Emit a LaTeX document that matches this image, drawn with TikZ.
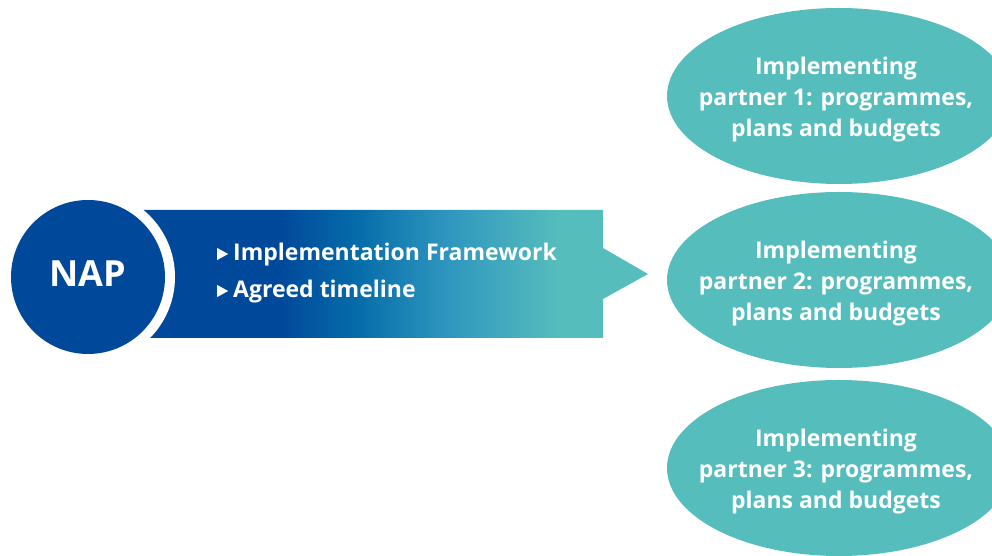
\documentclass[tikz,border=0pt]{standalone}
\usepackage{fontspec}
\setmainfont{Open Sans}
\usepackage{tikz}
\usetikzlibrary{positioning, shapes.geometric}

\definecolor{napblue}{HTML}{00489A}
\definecolor{midblue}{HTML}{066CAA}
\definecolor{lightblue}{HTML}{2E96BE}
\definecolor{partnerteal}{HTML}{56BDBD}

% band colours: 25bp = left end of the band, 75bp = tip of the pointer
\pgfdeclarehorizontalshading{bandshade}{100bp}{color(0bp)=(napblue); color(42bp)=(napblue);
  color(49bp)=(midblue); color(57bp)=(lightblue); color(67bp)=(partnerteal); color(100bp)=(partnerteal)}

\tikzset{
  partner/.style={ellipse, fill=partnerteal, minimum width=344, minimum height=176, inner sep=0pt},
  partnertext/.style={text=white, align=center, inner sep=0pt,
    font=\bfseries\fontsize{23}{31}\selectfont},
  bullet/.style={anchor=base west, text=white, inner sep=0pt,
    font=\bfseries\fontsize{23}{25}\selectfont}
}
\newcommand{\tri}{\tikz[baseline=-1pt]\fill[white] (0pt,0pt) -- (11pt,6pt) -- (0pt,12pt) -- cycle;\hspace{5pt}}

\begin{document}
\begin{tikzpicture}[x=1pt, y=1pt]
\useasboundingbox (0,0) rectangle (992,556);
\clip (0,0) rectangle (992,556);
% band with pointer
\shade[shading=bandshade]
  (88,346) -- (603,346) -- (603,308) -- (648,282) -- (603,257) -- (603,218) -- (88,218) -- cycle;
\fill[white] (88,279) circle (87);
\node[circle, fill=napblue, minimum size=154, inner sep=0pt] (nap) at (88,279) {};
\node[text=white, font=\bfseries\fontsize{36}{36}\selectfont] (naplabel) at ([yshift=3pt]nap.center) {NAP};
\node[bullet] (item1) at (217,295) {\tri Implementation Framework};
\node[bullet] (item2) at (217,258) {\tri Agreed timeline};
% partners
\node[partner] (p1) at (839,460) {};
\node[partner] (p2) at (839,276) {};
\node[partner] (p3) at (839,88) {};
\node[partnertext] (t1) at ([xshift=-3pt, yshift=-4pt]p1.center) {Implementing\\partner 1: programmes,\\plans and budgets};
\node[partnertext] (t2) at ([xshift=-3pt, yshift=-4pt]p2.center) {Implementing\\partner 2: programmes,\\plans and budgets};
\node[partnertext] (t3) at ([xshift=-3pt, yshift=-4pt]p3.center) {Implementing\\partner 3: programmes,\\plans and budgets};
\end{tikzpicture}
\end{document}
